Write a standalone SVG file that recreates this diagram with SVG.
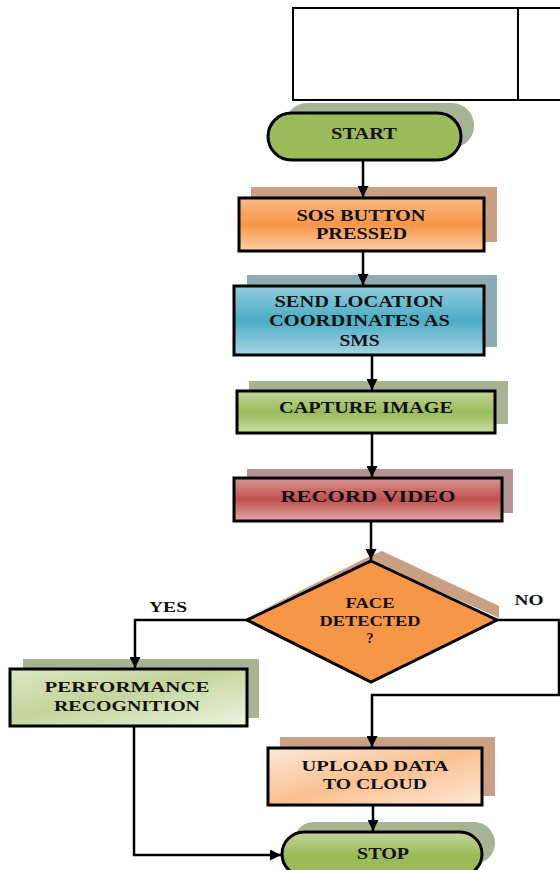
<svg xmlns="http://www.w3.org/2000/svg" width="560" height="870" viewBox="0 0 560 870">
<defs>
<style>
.box{stroke:#000;stroke-width:3}
.lbl{font-family:"Liberation Serif","Times New Roman",serif;font-weight:bold;fill:#111;text-anchor:middle}
.conn{fill:none;stroke:#000;stroke-width:2.5}
.shG{fill:#a8b393}
.shO{fill:#c9a084}
.shB{fill:#8eaab3}
.shR{fill:#b39494}
</style>
<marker id="ah" markerUnits="userSpaceOnUse" markerWidth="11" markerHeight="11" refX="10" refY="5" orient="auto" viewBox="0 0 10 10">
<path d="M0,0 L10,5 L0,10 z" fill="#000"/>
</marker>
<linearGradient id="gOrange" x1="0" y1="0" x2="0" y2="1">
<stop offset="0" stop-color="#fabb88"/><stop offset="0.5" stop-color="#f79646"/><stop offset="1" stop-color="#fbcfaa"/>
</linearGradient>
<linearGradient id="gBlue" x1="0" y1="0" x2="0" y2="1">
<stop offset="0" stop-color="#93cddd"/><stop offset="0.5" stop-color="#4bacc6"/><stop offset="1" stop-color="#a5d5e2"/>
</linearGradient>
<linearGradient id="gGreen" x1="0" y1="0" x2="0" y2="1">
<stop offset="0" stop-color="#c3d69b"/><stop offset="0.5" stop-color="#9bbb59"/><stop offset="1" stop-color="#c9dca5"/>
</linearGradient>
<linearGradient id="gRed" x1="0" y1="0" x2="0" y2="1">
<stop offset="0" stop-color="#d99694"/><stop offset="0.5" stop-color="#c0504d"/><stop offset="1" stop-color="#e2aaa8"/>
</linearGradient>
<linearGradient id="gStop" x1="0" y1="0" x2="0" y2="1">
<stop offset="0" stop-color="#c3d69b"/><stop offset="0.55" stop-color="#9bbb59"/><stop offset="1" stop-color="#9bbb59"/>
</linearGradient>
<linearGradient id="gPerf" x1="0" y1="0" x2="1" y2="1">
<stop offset="0" stop-color="#dbe6c4"/><stop offset="0.45" stop-color="#c3d69b"/><stop offset="1" stop-color="#eef3e2"/>
</linearGradient>
<linearGradient id="gUpload" x1="0" y1="0" x2="1" y2="1">
<stop offset="0" stop-color="#fde9d9"/><stop offset="0.5" stop-color="#fac090"/><stop offset="1" stop-color="#fde9d9"/>
</linearGradient>
</defs>
<rect width="560" height="870" fill="#fff"/>

<g id="header-table">
<rect x="293" y="8" width="300" height="92" fill="none" stroke="#000" stroke-width="2"/>
<line x1="518" y1="8" x2="518" y2="100" stroke="#000" stroke-width="2"/>
</g>

<g id="start">
<rect class="shG" x="285" y="103" width="189" height="45" rx="22"/>
<rect class="box" x="268" y="113" width="193" height="47" rx="23.5" fill="#9bbb59"/>
<text class="lbl" x="364" y="139" font-size="16" textLength="66" lengthAdjust="spacingAndGlyphs">START</text>
</g>

<g id="sos">
<rect class="shO" x="251" y="187" width="246" height="55"/>
<rect class="box" x="239" y="198" width="245" height="53" fill="url(#gOrange)"/>
<text class="lbl" x="361" y="220.5" font-size="17" textLength="129" lengthAdjust="spacingAndGlyphs">SOS BUTTON</text>
<text class="lbl" x="361.5" y="239" font-size="17" textLength="91" lengthAdjust="spacingAndGlyphs">PRESSED</text>
</g>

<g id="send">
<rect class="shB" x="247" y="275" width="250" height="72"/>
<rect class="box" x="234" y="286" width="250" height="69" fill="url(#gBlue)"/>
<text class="lbl" x="359" y="306.5" font-size="16" textLength="169" lengthAdjust="spacingAndGlyphs">SEND LOCATION</text>
<text class="lbl" x="359.5" y="326" font-size="16" textLength="181" lengthAdjust="spacingAndGlyphs">COORDINATES AS</text>
<text class="lbl" x="359.5" y="345.5" font-size="16" textLength="40" lengthAdjust="spacingAndGlyphs">SMS</text>
</g>

<g id="capture">
<rect class="shG" x="249" y="381" width="259" height="43"/>
<rect class="box" x="237" y="391" width="258" height="42" fill="url(#gGreen)"/>
<text class="lbl" x="366" y="412.5" font-size="16.5" textLength="174" lengthAdjust="spacingAndGlyphs">CAPTURE IMAGE</text>
</g>

<g id="record">
<rect class="shR" x="247" y="469" width="266" height="44"/>
<rect class="box" x="234" y="478" width="268" height="43" fill="url(#gRed)"/>
<text class="lbl" x="368" y="501.5" font-size="17.5" textLength="175" lengthAdjust="spacingAndGlyphs">RECORD VIDEO</text>
</g>

<g id="decision">
<polygon class="shO" points="252,615 368,557 382,551 499,606 499,618 371,561"/>
<polygon class="box" points="371,561 497,620 371,682 247,620" fill="#f79646" stroke-linejoin="miter"/>
<text class="lbl" x="370" y="608" font-size="15" textLength="49" lengthAdjust="spacingAndGlyphs">FACE</text>
<text class="lbl" x="370" y="625.5" font-size="15" textLength="101" lengthAdjust="spacingAndGlyphs">DETECTED</text>
<text class="lbl" x="370" y="643" font-size="14">?</text>
</g>

<g id="performance">
<rect class="shG" x="23" y="659" width="236" height="59"/>
<rect class="box" x="10" y="669" width="237" height="57" fill="url(#gPerf)"/>
<text class="lbl" x="127" y="691.5" font-size="15" textLength="165" lengthAdjust="spacingAndGlyphs">PERFORMANCE</text>
<text class="lbl" x="127" y="710.5" font-size="15" textLength="146" lengthAdjust="spacingAndGlyphs">RECOGNITION</text>
</g>

<g id="upload">
<rect class="shO" x="280" y="737" width="215" height="59"/>
<rect class="box" x="268" y="748" width="214" height="57" fill="url(#gUpload)"/>
<text class="lbl" x="375" y="770.5" font-size="15.5" textLength="147" lengthAdjust="spacingAndGlyphs">UPLOAD DATA</text>
<text class="lbl" x="375" y="789" font-size="15.5" textLength="104" lengthAdjust="spacingAndGlyphs">TO CLOUD</text>
</g>

<g id="stop">
<rect class="shG" x="293" y="822" width="202" height="42" rx="21"/>
<rect class="box" x="282" y="832" width="200" height="44" rx="22" fill="url(#gStop)"/>
<text class="lbl" x="383" y="859" font-size="16" textLength="52" lengthAdjust="spacingAndGlyphs">STOP</text>
</g>

<g id="edge-labels">
<text class="lbl" x="168" y="611.5" font-size="15" textLength="38" lengthAdjust="spacingAndGlyphs">YES</text>
<text class="lbl" x="529" y="605" font-size="15" textLength="29" lengthAdjust="spacingAndGlyphs">NO</text>
</g>

<g id="connectors">
<path class="conn" d="M363,160 V197" marker-end="url(#ah)"/>
<path class="conn" d="M363,251 V285" marker-end="url(#ah)"/>
<path class="conn" d="M372,355 V390" marker-end="url(#ah)"/>
<path class="conn" d="M372,433 V477" marker-end="url(#ah)"/>
<path class="conn" d="M371,521 V560" marker-end="url(#ah)"/>
<path class="conn" d="M247,620 H135 V668" marker-end="url(#ah)"/>
<path class="conn" d="M497,620 H559 V695 H372 V747" marker-end="url(#ah)"/>
<path class="conn" d="M134,726 V855 H281" marker-end="url(#ah)"/>
<path class="conn" d="M373,805 V831" marker-end="url(#ah)"/>
</g>
</svg>
